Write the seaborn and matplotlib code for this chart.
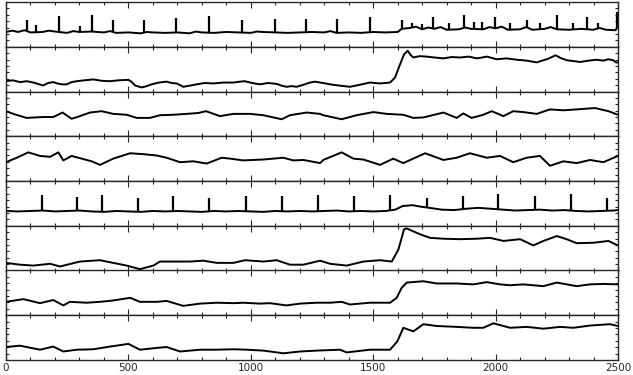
import matplotlib
matplotlib.use("Agg")
import matplotlib.pyplot as plt
from matplotlib.ticker import MultipleLocator
import seaborn as sns
import pandas as pd
import numpy as np

# ---- data (panel-relative levels, 0 = panel bottom, 1 = panel top) ----
p1_x = [0, 25, 50, 75, 100, 150, 175, 200, 250, 275, 300, 350, 400, 425, 450, 500, 550, 575, 600, 650, 700,
        750, 775, 800, 850, 900, 950, 1000, 1025, 1050, 1100, 1150, 1200, 1250, 1300, 1325, 1350, 1400,
        1450, 1500, 1550, 1600, 1616, 1650, 1675, 1700, 1725, 1750, 1775, 1800, 1850, 1875, 1900, 1950,
        1975, 2000, 2025, 2050, 2100, 2125, 2150, 2200, 2225, 2250, 2300, 2350, 2400, 2425, 2450, 2490, 2500]
p1_y = [.33, .36, .33, .37, .32, .33, .36, .34, .31, .35, .33, .34, .32, .35, .31, .32, .30, .33, .32, .31, .32,
        .30, .34, .32, .31, .33, .32, .31, .34, .33, .32, .31, .32, .33, .32, .35, .31, .32,
        .31, .33, .32, .33, .40, .42, .45, .39, .43, .40, .44, .38, .39, .43, .40, .39,
        .44, .41, .45, .38, .39, .44, .38, .40, .44, .39, .38, .40, .38, .42, .38, .37, .45]
p1_spike_x = [84, 121, 218, 302, 350, 438, 564, 693, 829, 965, 1099, 1225, 1354, 1488, 1616, 1660, 1700,
              1746, 1810, 1871, 1910, 1944, 1998, 2059, 2127, 2181, 2252, 2318, 2372, 2420, 2497]
p1_spike_top = [.60, .49, .69, .46, .70, .59, .60, .64, .69, .60, .62, .62, .62, .67, .60, .52, .50,
                .67, .52, .71, .55, .55, .67, .53, .60, .53, .71, .52, .67, .52, .78]

p2_x = [0, 28, 57, 85, 112, 130, 152, 172, 193, 210, 227, 248, 268, 289, 320, 357, 390, 425, 460, 500, 512,
        527, 554, 575, 595, 625, 656, 677, 697, 712, 724, 750, 779, 812, 847, 888, 929, 955, 976, 1005, 1037,
        1070, 1106, 1126, 1146, 1166, 1187, 1215, 1242, 1262, 1283, 1305, 1324, 1365, 1405, 1445, 1487, 1528,
        1569, 1589, 1607, 1626, 1641, 1652, 1664, 1690, 1718, 1750, 1787, 1820, 1855, 1890, 1923, 1945, 1964,
        1985, 2004, 2045, 2086, 2127, 2168, 2190, 2209, 2230, 2245, 2265, 2290, 2318, 2345, 2380, 2413, 2440,
        2460, 2480, 2492, 2500]
p2_y = [.23, .25, .21, .23, .20, .17, .135, .19, .21, .18, .16, .16, .21, .23, .25, .27, .24, .23, .25, .26, .22,
        .135, .09, .12, .16, .20, .22, .19, .18, .14, .105, .13, .16, .19, .18, .20, .20, .22, .23, .19, .16,
        .19, .17, .13, .105, .12, .105, .15, .20, .22, .20, .18, .16, .13, .105, .15, .20, .18,
        .20, .31, .57, .83, .91, .82, .76, .79, .78, .76, .74, .77, .76, .78, .74, .76, .78,
        .75, .72, .74, .71, .69, .65, .69, .72, .77, .81, .75, .70, .68, .66, .69, .71, .69,
        .72, .70, .65, .65]

p3_x = [0, 30, 84, 152, 193, 231, 268, 302, 343, 391, 438, 493, 534, 588, 629, 683, 738, 786, 817, 874,
        929, 997, 1051, 1126, 1160, 1228, 1283, 1296, 1371, 1432, 1501, 1555, 1623, 1664, 1705, 1787,
        1841, 1868, 1902, 1950, 1984, 2032, 2072, 2113, 2168, 2222, 2277, 2331, 2406, 2461, 2500]
p3_y = [.56, .50, .41, .43, .43, .53, .39, .45, .53, .56, .50, .48, .41, .41, .47, .48, .50, .52, .56, .45,
        .50, .50, .47, .38, .47, .53, .50, .47, .38, .47, .54, .50, .48, .41, .42, .53,
        .41, .51, .41, .48, .56, .45, .56, .54, .50, .60, .58, .60, .63, .56, .48]

p4_x = [0, 44, 91, 139, 180, 214, 234, 268, 309, 350, 384, 438, 507, 561, 616, 656, 711, 765, 820, 881,
        915, 969, 1051, 1133, 1174, 1215, 1283, 1296, 1371, 1419, 1460, 1528, 1582, 1623, 1712, 1787,
        1841, 1895, 1964, 2018, 2072, 2127, 2181, 2222, 2277, 2331, 2386, 2440, 2500]
p4_y = [.42, .52, .64, .56, .54, .64, .46, .56, .50, .44, .36, .50, .62, .60, .57, .52, .42, .44, .39, .52,
        .50, .46, .48, .52, .46, .47, .40, .47, .64, .50, .48, .36, .50, .40, .62, .47,
        .52, .62, .52, .56, .42, .52, .56, .34, .44, .40, .47, .42, .56]

p5_x = [0, 50, 100, 150, 200, 250, 300, 350, 400, 450, 500, 550, 600, 650, 700, 750, 800, 850, 900, 950,
        1000, 1050, 1100, 1150, 1200, 1250, 1300, 1350, 1400, 1450, 1500, 1550, 1590, 1620, 1660, 1690,
        1730, 1780, 1830, 1880, 1930, 1980, 2030, 2080, 2130, 2180, 2230, 2280, 2330, 2380, 2430, 2480, 2500]
p5_y = [.33, .32, .33, .34, .32, .33, .34, .32, .31, .33, .32, .31, .33, .32, .33, .32, .31, .33, .32, .33,
        .32, .31, .33, .32, .33, .32, .33, .34, .32, .33, .32, .33, .36, .44, .46, .43,
        .40, .36, .35, .38, .40, .38, .36, .34, .35, .36, .34, .35, .33, .32, .33, .34, .35]
p5_spike_x = [146, 291, 391, 538, 683, 831, 979, 1129, 1276, 1423, 1569, 1718, 1866, 2011, 2161, 2308, 2454]
p5_spike_top = [.68, .65, .69, .63, .67, .63, .67, .67, .68, .67, .68, .63, .67, .70, .67, .70, .63]

p6_x = [0, 57, 112, 180, 221, 302, 384, 438, 493, 547, 602, 629, 683, 752, 806, 861, 929, 976, 1051, 1106,
        1160, 1215, 1283, 1324, 1392, 1460, 1528, 1576, 1603, 1626, 1637, 1691, 1732, 1787, 1855, 1923,
        1977, 2032, 2100, 2154, 2195, 2250, 2290, 2331, 2399, 2461, 2500]
p6_y = [.17, .13, .11, .15, .09, .20, .23, .17, .11, .03, .11, .20, .20, .20, .22, .17, .17, .23, .20, .23,
        .13, .13, .22, .15, .11, .20, .23, .20, .47, .92, .94, .81, .73, .71, .70, .71,
        .73, .66, .70, .56, .66, .77, .70, .61, .62, .66, .56]

p7_x = [0, 71, 139, 193, 234, 261, 329, 384, 438, 507, 547, 616, 656, 724, 793, 861, 929, 969, 1037, 1078,
        1146, 1201, 1269, 1324, 1371, 1405, 1487, 1569, 1596, 1616, 1637, 1705, 1759, 1841, 1909, 1964,
        2018, 2059, 2113, 2195, 2250, 2331, 2386, 2440, 2500]
p7_y = [.30, .36, .27, .34, .22, .30, .28, .30, .33, .39, .30, .30, .32, .21, .26, .28, .27, .28, .26, .27,
        .22, .26, .28, .28, .30, .24, .28, .28, .39, .61, .73, .76, .71, .71, .69, .74,
        .69, .67, .69, .65, .73, .65, .69, .70, .69]

p8_x = [0, 57, 139, 193, 234, 289, 357, 425, 500, 547, 616, 656, 711, 793, 861, 929, 983, 1051, 1133, 1201,
        1269, 1364, 1392, 1487, 1569, 1599, 1623, 1664, 1705, 1759, 1841, 1909, 1950, 1991, 2059, 2127,
        2195, 2263, 2318, 2386, 2467, 2500]
p8_y = [.29, .32, .23, .30, .19, .23, .24, .30, .36, .23, .27, .29, .19, .23, .23, .24, .23, .21, .15, .19,
        .21, .23, .17, .23, .23, .42, .72, .64, .80, .76, .74, .72, .72, .82, .72, .74,
        .70, .74, .72, .77, .80, .76]

x_ticks = [0, 500, 1000, 1500, 2000, 2500]
x_tick_labels = ["0", "500", "1000", "1500", "2000", "2500"]

series = [(p1_x, p1_y), (p2_x, p2_y), (p3_x, p3_y), (p4_x, p4_y),
          (p5_x, p5_y), (p6_x, p6_y), (p7_x, p7_y), (p8_x, p8_y)]
spikes = {0: (p1_spike_x, p1_spike_top), 4: (p5_spike_x, p5_spike_top)}

sns.set_style("ticks")
plt.rcParams["font.family"] = ["DejaVu Sans"]

fig, axes = plt.subplots(8, 1, figsize=(6.33, 3.75), dpi=100, sharex=True)
fig.subplots_adjust(left=6/633, right=618/633, top=1-2/375, bottom=1-360/375, hspace=0)

for i, ax in enumerate(axes):
    xs, ys = series[i]
    df = pd.DataFrame({"x": xs, "y": ys})
    sns.lineplot(data=df, x="x", y="y", ax=ax, color="black", lw=1.4, estimator=None, sort=False)
    if i in spikes:
        sx, st = spikes[i]
        sb = np.interp(sx, xs, ys)
        ax.vlines(sx, sb, st, color="black", lw=1.6)
    ax.set_xlim(0, 2500)
    ax.set_ylim(0, 1)
    ax.set_xlabel("")
    ax.set_ylabel("")
    ax.set_yticks([k / 7 for k in range(1, 7)])
    ax.set_yticklabels([])
    ax.xaxis.set_minor_locator(MultipleLocator(100))
    ax.set_xticks(x_ticks)
    ax.tick_params(which="both", direction="in", top=True, right=True, left=True, bottom=True, width=0.8)
    ax.tick_params(which="major", axis="x", length=4)
    ax.tick_params(which="minor", axis="x", length=2)
    ax.tick_params(axis="y", length=2.5)
    for s in ax.spines.values():
        s.set_linewidth(1.0)
    if i < 7:
        ax.tick_params(axis="x", labelbottom=False)

axes[-1].set_xticklabels(x_tick_labels, fontsize=7.5)
axes[-1].tick_params(axis="x", pad=2)

fig.savefig("out.png", dpi=100)
